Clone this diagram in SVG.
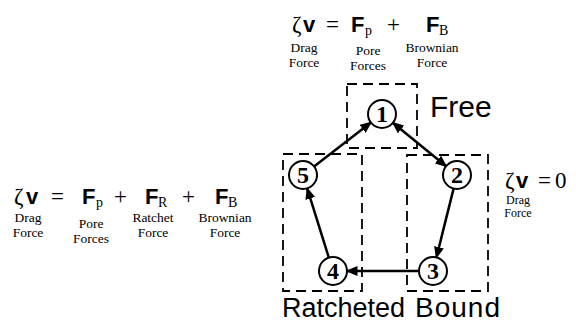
<svg xmlns="http://www.w3.org/2000/svg" width="576" height="322" viewBox="0 0 576 322">
<defs>
<style>
.s{font-family:"Liberation Serif","Times New Roman",serif;fill:#000}
.lab{font-size:13.5px;text-anchor:middle}
.sym{font-size:23px}
.bf{font-family:"Liberation Sans",Arial,sans-serif;font-weight:bold;font-size:22px;fill:#000}
.sub{font-size:14px}
.big{font-family:"Liberation Sans",Arial,sans-serif;fill:#000}
.box{fill:none;stroke:#000;stroke-width:1.8;stroke-dasharray:10,6}
.node circle{fill:#fff;stroke:#000;stroke-width:2}
.node text{font-family:"Liberation Serif","Times New Roman",serif;font-weight:bold;font-size:24px;text-anchor:middle}
.edge{stroke:#000;stroke-width:2.5;fill:none}
</style>
<marker id="ah" markerUnits="userSpaceOnUse" markerWidth="12" markerHeight="10" viewBox="0 0 12 10" refX="11" refY="5" orient="auto-start-reverse">
<path d="M0,0 L12,5 L0,10 z" fill="#000"/>
</marker>
</defs>
<rect width="576" height="322" fill="#fff"/>

<!-- top equation -->
<g id="eq-free">
<text class="s sym" x="292" y="32">ζ</text>
<text class="bf" x="303" y="32">v</text>
<text class="s sym" x="326" y="32">=</text>
<text class="bf" x="351" y="32">F</text>
<text class="s sub" x="365" y="35">p</text>
<text class="s sym" x="387" y="32">+</text>
<text class="bf" x="426" y="32">F</text>
<text class="s sub" x="439" y="35">B</text>
<text class="s lab" x="304" y="52">Drag</text>
<text class="s lab" x="304" y="67">Force</text>
<text class="s lab" x="368" y="55">Pore</text>
<text class="s lab" x="368" y="70">Forces</text>
<text class="s lab" x="432" y="52">Brownian</text>
<text class="s lab" x="432" y="67">Force</text>
</g>

<!-- left equation -->
<g id="eq-ratcheted">
<text class="s sym" x="14" y="204">ζ</text>
<text class="bf" x="26" y="204">v</text>
<text class="s sym" x="51" y="204">=</text>
<text class="bf" x="82" y="204">F</text>
<text class="s sub" x="96" y="207">p</text>
<text class="s sym" x="114" y="204">+</text>
<text class="bf" x="145" y="204">F</text>
<text class="s sub" x="158" y="207">R</text>
<text class="s sym" x="182" y="204">+</text>
<text class="bf" x="215" y="204">F</text>
<text class="s sub" x="228" y="207">B</text>
<text class="s lab" x="28" y="222">Drag</text>
<text class="s lab" x="28" y="237">Force</text>
<text class="s lab" x="91" y="228">Pore</text>
<text class="s lab" x="91" y="243">Forces</text>
<text class="s lab" x="153" y="222">Ratchet</text>
<text class="s lab" x="153" y="237">Force</text>
<text class="s lab" x="225" y="222">Brownian</text>
<text class="s lab" x="225" y="237">Force</text>
</g>

<!-- right equation -->
<g id="eq-bound">
<text class="s sym" x="505" y="188">ζ</text>
<text class="bf" x="516" y="188">v</text>
<text class="s sym" x="538" y="188">=</text>
<text class="s sym" x="555" y="188">0</text>
<text class="s lab" x="518" y="204" style="font-size:12px">Drag</text>
<text class="s lab" x="518" y="217" style="font-size:12px">Force</text>
</g>

<!-- state boxes -->
<g id="box-free">
<rect class="box" x="347" y="84" width="70" height="64"/>
<text class="big" x="430" y="117" font-size="30">Free</text>
</g>
<g id="box-ratcheted">
<rect class="box" x="283" y="154" width="79" height="137"/>
<text class="big" x="282" y="317" font-size="27">Ratcheted</text>
</g>
<g id="box-bound">
<rect class="box" x="407" y="155" width="81" height="136"/>
<text class="big" x="415" y="317" font-size="28" textLength="85" lengthAdjust="spacing">Bound</text>
</g>

<!-- connectors -->
<g id="connectors">
<line class="edge" x1="313.7" y1="166.8" x2="371.3" y2="122.2" marker-end="url(#ah)"/>
<line class="edge" x1="392.5" y1="122.5" x2="446.5" y2="166.5" marker-start="url(#ah)" marker-end="url(#ah)"/>
<line class="edge" x1="453.7" y1="188.1" x2="436.3" y2="257.9" marker-end="url(#ah)"/>
<line class="edge" x1="419.5" y1="271" x2="346.5" y2="271" marker-end="url(#ah)"/>
<line class="edge" x1="329" y1="258.1" x2="307" y2="187.9" marker-end="url(#ah)"/>
</g>

<!-- nodes -->
<g id="n1" class="node"><circle cx="382" cy="114" r="14"/><text x="382" y="122">1</text></g>
<g id="n2" class="node"><circle cx="457" cy="175" r="14"/><text x="457" y="183">2</text></g>
<g id="n3" class="node"><circle cx="433" cy="271" r="14"/><text x="433" y="279">3</text></g>
<g id="n4" class="node"><circle cx="333" cy="271" r="14"/><text x="333" y="279">4</text></g>
<g id="n5" class="node"><circle cx="303" cy="175" r="14"/><text x="303" y="183">5</text></g>
</svg>
